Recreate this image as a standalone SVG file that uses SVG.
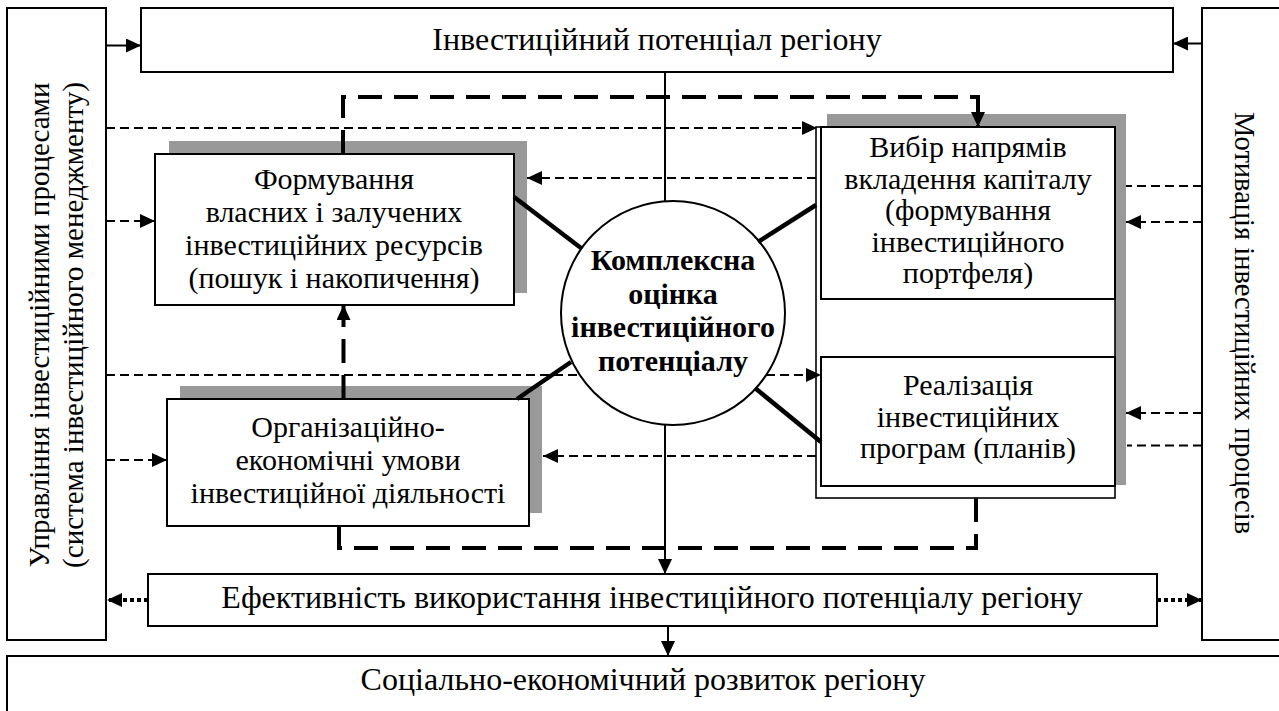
<svg xmlns="http://www.w3.org/2000/svg" width="1279" height="711" viewBox="0 0 1279 711">
<defs>
<style>
.box{fill:#fff;stroke:#000;stroke-width:2}
.frame{fill:#fff;stroke:#000;stroke-width:1.6}
.shadow{fill:#999;stroke:none}
.t{font-family:"Liberation Serif","Times New Roman",serif;fill:#000;text-anchor:middle}
.big{font-size:32px}
.mid{font-size:30px}
.side{font-size:29px}
.side2{font-size:28.5px}
.bold{font-size:30px;font-weight:bold}
.solid{fill:none;stroke:#000;stroke-width:2}
.thin{fill:none;stroke:#000;stroke-width:2;stroke-dasharray:9 5}
.dot{fill:none;stroke:#000;stroke-width:4;stroke-dasharray:4 3}
.thick{fill:none;stroke:#000;stroke-width:4.5}
.tdash{fill:none;stroke:#000;stroke-width:4;stroke-dasharray:24 12}
</style>
<marker id="ah" markerUnits="userSpaceOnUse" markerWidth="16" markerHeight="14" refX="15" refY="7" orient="auto">
<path d="M0,0 L15,7 L0,14 z" fill="#000"/>
</marker>
</defs>
<rect width="1279" height="711" fill="#fff"/>

<g id="management">
<rect class="box" x="7" y="8" width="99" height="632"/>
<text class="t side" transform="translate(49,325) rotate(-90)">Управління інвестиційними процесами</text>
<text class="t side" transform="translate(83,325) rotate(-90)">(система інвестиційного менеджменту)</text>
</g>

<g id="motivation">
<rect class="box" x="1202" y="8" width="90" height="632"/>
<text class="t side2" transform="translate(1235,323) rotate(90)">Мотивація інвестиційних процесів</text>
</g>

<g id="potential">
<rect class="box" x="141" y="8" width="1032" height="64"/>
<text class="t big" x="657" y="50">Інвестиційний потенціал регіону</text>
</g>

<g id="formation">
<rect class="shadow" x="169" y="141" width="358" height="152"/>
<rect class="box" x="155" y="154" width="359" height="151"/>
<text class="t mid" x="334" y="189">Формування</text>
<text class="t mid" x="334" y="222">власних і залучених</text>
<text class="t mid" x="334" y="255">інвестиційних ресурсів</text>
<text class="t mid" x="334" y="288">(пошук і накопичення)</text>
</g>

<g id="conditions">
<rect class="shadow" x="180" y="386" width="362" height="127"/>
<rect class="box" x="167" y="399" width="362" height="127"/>
<text class="t mid" x="348" y="437">Організаційно-</text>
<text class="t mid" x="348" y="470">економічні умови</text>
<text class="t mid" x="348" y="503">інвестиційної діяльності</text>
</g>

<g id="choice-implementation">
<rect class="shadow" x="827" y="114" width="299" height="371"/>
<rect class="frame" x="816" y="127" width="299" height="371"/>
<g id="choice">
<rect class="box" x="821" y="127" width="294" height="172"/>
<text class="t mid" x="968" y="157">Вибір напрямів</text>
<text class="t mid" x="968" y="189">вкладення капіталу</text>
<text class="t mid" x="968" y="220">(формування</text>
<text class="t mid" x="968" y="252">інвестиційного</text>
<text class="t mid" x="968" y="283">портфеля)</text>
</g>
<g id="implementation">
<rect class="box" x="821" y="357" width="294" height="129"/>
<text class="t mid" x="968" y="395">Реалізація</text>
<text class="t mid" x="968" y="427">інвестиційних</text>
<text class="t mid" x="968" y="458">програм (планів)</text>
</g>
</g>

<g id="assessment">
<circle cx="673" cy="313" r="112" fill="#fff" stroke="#000" stroke-width="2"/>
<text class="t bold" x="673" y="270">Комплексна</text>
<text class="t bold" x="673" y="303.5">оцінка</text>
<text class="t bold" x="673" y="337">інвестиційного</text>
<text class="t bold" x="673" y="370.5">потенціалу</text>
</g>

<g id="efficiency">
<rect class="box" x="148" y="574" width="1009" height="52"/>
<text class="t big" x="652" y="608">Ефективність використання інвестиційного потенціалу регіону</text>
</g>

<g id="development">
<rect class="box" x="7" y="656" width="1290" height="70"/>
<text class="t big" x="643" y="690">Соціально-економічний розвиток регіону</text>
</g>

<g id="connectors">
<path class="solid" d="M106,45.5 H141" marker-end="url(#ah)"/>
<path class="solid" d="M1202,43.5 H1173" marker-end="url(#ah)"/>
<path class="thin" d="M106,128 H817" marker-end="url(#ah)"/>
<path class="thin" d="M106,221 H155" marker-end="url(#ah)"/>
<path class="thin" d="M106,375 H580"/>
<path class="thin" d="M766,375 H821" marker-end="url(#ah)"/>
<path class="thin" d="M106,460 H167" marker-end="url(#ah)"/>
<path class="dot" d="M148,600 H107" marker-end="url(#ah)"/>
<path class="dot" d="M1157,600 H1202" marker-end="url(#ah)"/>
<path class="thin" d="M1202,186 H1126"/>
<path class="thin" d="M1202,222 H1126" marker-end="url(#ah)"/>
<path class="thin" d="M1202,413 H1126" marker-end="url(#ah)"/>
<path class="thin" d="M1202,445.5 H1127"/>
<path class="thin" d="M816,178 H527" marker-end="url(#ah)"/>
<path class="thin" d="M816,456 H543" marker-end="url(#ah)"/>
<path class="solid" d="M665,72 V201"/>
<path class="solid" d="M665,425 V574" marker-end="url(#ah)"/>
<path class="solid" d="M668,626 V656" marker-end="url(#ah)"/>
<path class="thick" d="M514,197 L581,248"/>
<path class="thick" d="M816,205 L758,242"/>
<path class="thick" d="M517,399 L571,362"/>
<path class="thick" d="M755,388 L821,442"/>
<path class="tdash" d="M343,154 V97 H978 V127" marker-end="url(#ah)"/>
<path class="tdash" d="M343.5,399 V305" marker-end="url(#ah)"/>
<path class="tdash" d="M976,498 V548 H339 V526"/>
</g>
</svg>
